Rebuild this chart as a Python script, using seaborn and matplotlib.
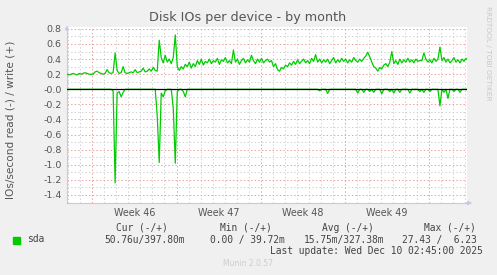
import numpy as np
import pandas as pd
import matplotlib
matplotlib.use("Agg")
import matplotlib.pyplot as plt
from matplotlib.transforms import blended_transform_factory
import seaborn as sns

# ---- data (one sample every 4 hours) ----
write = [
    0.20, 0.19, 0.20, 0.21, 0.20, 0.19, 0.21, 0.20, 0.21, 0.22,
    0.21, 0.20, 0.20, 0.20, 0.23, 0.24, 0.22, 0.21, 0.20, 0.21,
    0.26, 0.22, 0.21, 0.22, 0.48, 0.25, 0.21, 0.22, 0.30, 0.22,
    0.21, 0.22, 0.23, 0.22, 0.26, 0.22, 0.23, 0.24, 0.28, 0.23,
    0.24, 0.27, 0.24, 0.29, 0.25, 0.24, 0.65, 0.42, 0.35, 0.45,
    0.36, 0.40, 0.34, 0.42, 0.72, 0.30, 0.25, 0.30, 0.27, 0.33,
    0.30, 0.36, 0.28, 0.34, 0.30, 0.38, 0.33, 0.40, 0.32, 0.37,
    0.35, 0.40, 0.34, 0.38, 0.36, 0.41, 0.33, 0.39, 0.37, 0.42,
    0.35, 0.38, 0.34, 0.52, 0.36, 0.40, 0.33, 0.38, 0.41, 0.35,
    0.39, 0.36, 0.45, 0.38, 0.34, 0.40, 0.36, 0.41, 0.35, 0.38,
    0.40, 0.36, 0.38, 0.30, 0.34, 0.26, 0.24, 0.29, 0.27, 0.32,
    0.30, 0.35, 0.32, 0.37, 0.33, 0.39, 0.34, 0.37, 0.40, 0.35,
    0.38, 0.34, 0.41, 0.37, 0.46, 0.36, 0.40, 0.35, 0.39, 0.36,
    0.40, 0.34, 0.38, 0.42, 0.35, 0.39, 0.36, 0.41, 0.37, 0.40,
    0.35, 0.39, 0.36, 0.42, 0.38, 0.36, 0.40, 0.37, 0.41, 0.44,
    0.49, 0.43, 0.36, 0.30, 0.28, 0.24, 0.29, 0.27, 0.32, 0.34,
    0.30, 0.36, 0.50, 0.34, 0.38, 0.33, 0.40, 0.35, 0.39, 0.36,
    0.41, 0.36, 0.39, 0.35, 0.40, 0.37, 0.38, 0.38, 0.48, 0.40,
    0.36, 0.39, 0.35, 0.41, 0.37, 0.40, 0.56, 0.38, 0.42, 0.36,
    0.40, 0.35, 0.38, 0.42, 0.36, 0.39, 0.35, 0.40, 0.37, 0.41,
    0.38,
]
read = [
    0, 0, 0, 0, 0, 0, 0, 0, 0, 0,
    0, 0, 0, 0, 0, 0, 0, 0, 0, 0,
    0, 0, 0, 0.02, 1.24, 0.05, 0.03, 0.10, 0.04, 0,
    0, 0, 0, 0, 0, 0, 0, 0, 0, 0,
    0, 0, 0, 0, 0, 0.35, 0.97, 0.05, 0.10, 0.02,
    0, 0, 0, 0.25, 0.98, 0.03, 0, 0, 0.03, 0.10,
    0, 0, 0, 0, 0, 0, 0, 0, 0, 0,
    0, 0, 0, 0, 0, 0, 0, 0, 0, 0,
    0, 0, 0, 0, 0, 0, 0, 0, 0, 0,
    0, 0, 0, 0, 0, 0, 0, 0, 0, 0,
    0, 0, 0, 0, 0, 0, 0, 0, 0, 0,
    0, 0, 0, 0, 0, 0, 0, 0, 0, 0,
    0, 0, 0, 0, 0, 0, 0.02, 0, 0, 0,
    0.055, 0, 0, 0, 0, 0, 0, 0, 0, 0,
    0, 0, 0, 0, 0, 0.05, 0, 0, 0.04, 0,
    0, 0.03, 0, 0.04, 0, 0, 0, 0.06, 0, 0,
    0, 0.03, 0, 0.05, 0, 0, 0.04, 0, 0, 0,
    0, 0.05, 0, 0, 0, 0, 0.03, 0, 0.04, 0,
    0, 0.03, 0, 0, 0, 0, 0.22, 0, 0.04, 0,
    0.12, 0, 0, 0.03, 0, 0, 0.04, 0, 0, 0,
    0,
]
week_labels = ["Week 46", "Week 47", "Week 48", "Week 49"]
legend_heads = ["Cur (-/+)", "Min (-/+)", "Avg (-/+)", "Max (-/+)"]
legend_vals = ["50.76u/397.80m", "0.00 / 39.72m", "15.75m/327.38m", "27.43 /  6.23"]
series_name = "sda"
title = "Disk IOs per device - by month"
ylabel = "IOs/second read (-) / write (+)"
last_update = "Last update: Wed Dec 10 02:45:00 2025"
footer = "Munin 2.0.57"
side_text = "RRDTOOL / TOBI OETIKER"

step_h = 4
hours = np.arange(len(write)) * step_h
df = pd.DataFrame({"hours": hours, "write": write, "read": -np.array(read)})

sns.set_theme(style="white")
plt.rcParams["font.family"] = ["DejaVu Sans"]
plt.rcParams["axes.unicode_minus"] = False

W, H = 497, 275
fig = plt.figure(figsize=(W / 100, H / 100), dpi=100, facecolor="#F0F0F0")
ax = fig.add_axes([67 / W, (H - 203) / H, 400 / W, 176 / H])
ax.set_facecolor("white")

green = "#00CC00"
sns.lineplot(data=df, x="hours", y="write", ax=ax, color=green, lw=0.9, zorder=4)
sns.lineplot(data=df, x="hours", y="read", ax=ax, color=green, lw=0.9, zorder=4)
ax.axhline(0, color="black", lw=0.9, zorder=5)

x0, x1 = 0, 798
ax.set_xlim(x0, x1)
ax.set_ylim(-1.506, 0.825)

major_x = np.arange(50.5, x1, 168)
minor_x = np.arange(2.5, x1, 24)
ax.set_xticks(major_x)
ax.set_xticks(minor_x, minor=True)
ax.set_xticklabels([])
yt = np.round(np.arange(-1.4, 0.81, 0.2), 1)
ax.set_yticks(yt)
ax.set_yticks(np.round(np.arange(-1.5, 0.81, 0.1), 1), minor=True)
ax.set_yticklabels([f"{v:.1f}" for v in yt])

dots = (0, (1.4, 2.2))
ax.grid(which="minor", color="#D2D2D2", lw=0.72, linestyle=dots)
ax.grid(which="major", color="#EBA0A0", lw=0.72, linestyle=dots)
ax.set_axisbelow(True)

for s in ["top", "right"]:
    ax.spines[s].set_visible(False)
for s in ["left", "bottom"]:
    ax.spines[s].set_color("#C8C8EE")
    ax.spines[s].set_linewidth(0.8)

ax.tick_params(which="both", direction="out", length=2, width=0.7,
               color="#C8A0A0", labelsize=6.8, labelcolor="#555555", pad=2)
ax.tick_params(which="minor", length=1.5, color="#C8C8C8")
ax.set_xlabel("")
ax.set_ylabel(ylabel, fontsize=7.6, color="#555555")
ax.yaxis.set_label_coords(-51 / 400, (203 - 120) / 176)

# axis arrows
ax.annotate("", xy=(0, 1.025), xytext=(0, 0.97), xycoords="axes fraction",
            arrowprops=dict(arrowstyle="-|>", color="#C8C8EE", lw=0.8,
                            mutation_scale=6), annotation_clip=False)
ax.annotate("", xy=(1.02, 0), xytext=(0.99, 0), xycoords="axes fraction",
            arrowprops=dict(arrowstyle="-|>", color="#C8C8EE", lw=0.8,
                            mutation_scale=6), annotation_clip=False)

trans = blended_transform_factory(ax.transData, fig.transFigure)
for m, lab in zip(major_x, week_labels):
    ax.text(m + 84, 1 - 212.5 / H, lab, transform=trans, ha="center", va="center",
            fontsize=6.9, color="#555555")

fig.text(248 / W, 1 - 18 / H, title, ha="center", va="center", fontsize=9.2,
         color="#555555")
fig.text(488 / W, 1 - 53 / H, side_text, ha="center", va="center", rotation=270,
         fontsize=5.3, color="#C8C8C8")

mono = "DejaVu Sans Mono"
fs = 6.9
heads_x = [142, 245.5, 347.5, 449.5]
vals_right = [185, 285, 384, 476.7]
for hx, t in zip(heads_x, legend_heads):
    fig.text(hx / W, 1 - 228 / H, t, family=mono, fontsize=fs, ha="center",
             va="center", color="#444444")
for vx, t in zip(vals_right, legend_vals):
    fig.text(vx / W, 1 - 239.5 / H, t, family=mono, fontsize=fs, ha="right",
             va="center", color="#444444")
fig.patches.append(plt.Rectangle((13 / W, 1 - 243.5 / H), 7 / W, 7 / H,
                                 transform=fig.transFigure, color=green))
fig.text(27 / W, 1 - 239.5 / H, series_name, family=mono, fontsize=fs,
         ha="left", va="center", color="#444444")
fig.text(482.7 / W, 1 - 251 / H, last_update, family=mono, fontsize=fs,
         ha="right", va="center", color="#444444")
fig.text(248 / W, 1 - 264 / H, footer, fontsize=5.5, ha="center", va="center",
         color="#CCCCCC")

fig.savefig("out.png", dpi=100, facecolor=fig.get_facecolor())
